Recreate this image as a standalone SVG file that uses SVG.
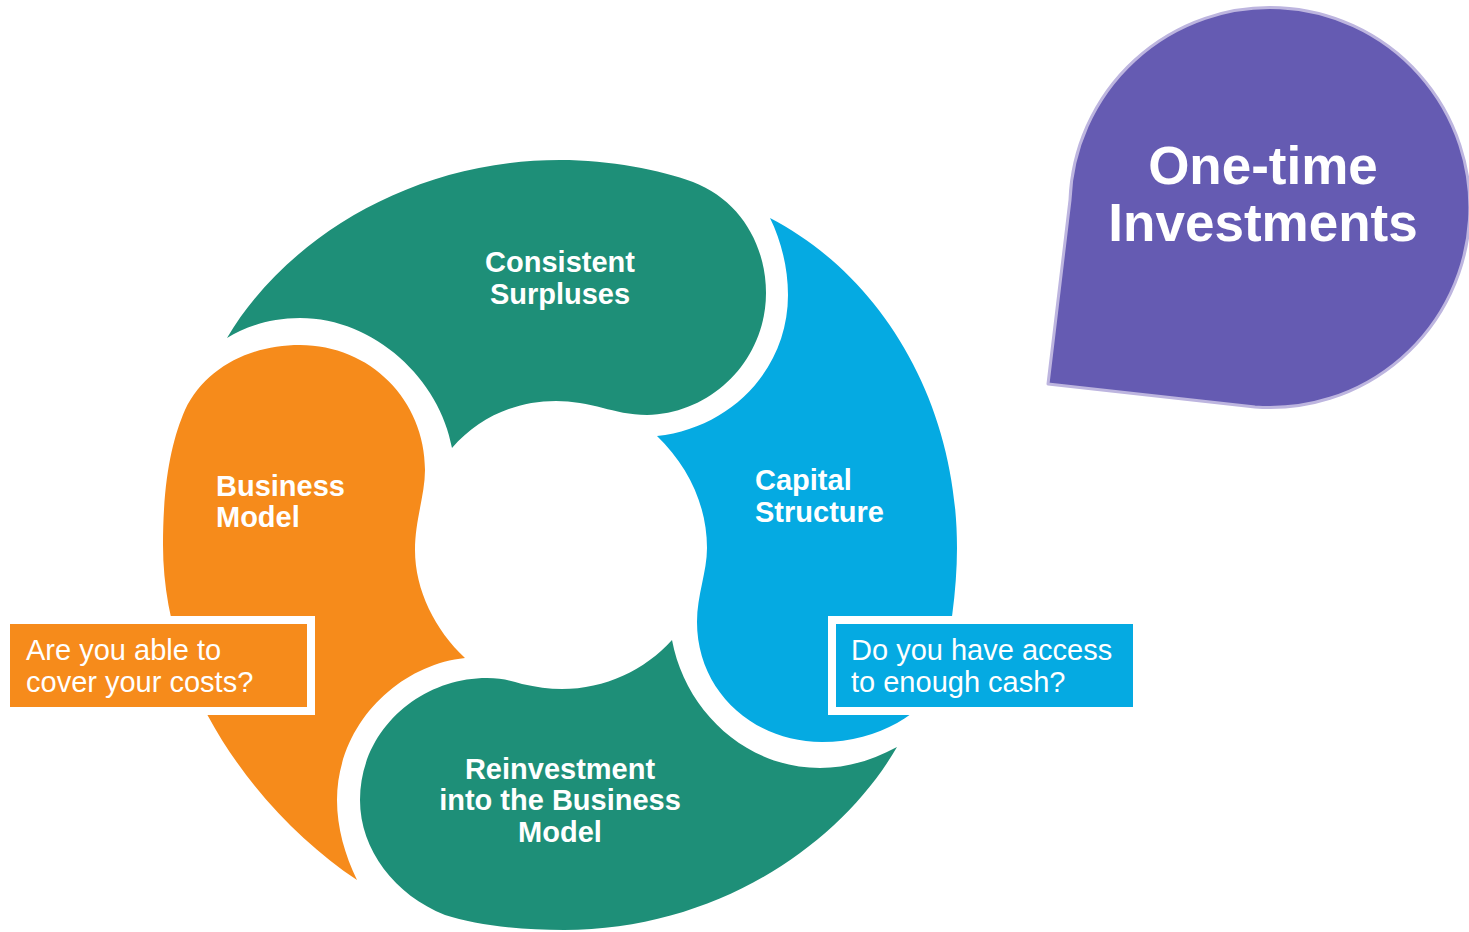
<svg xmlns="http://www.w3.org/2000/svg" width="1469" height="932" viewBox="0 0 1469 932">
  <style>
    .green { fill: #1E8F78; }
    .blue { fill: #05AAE2; }
    .orange { fill: #F68B1B; }
    .label { font-family: "Liberation Sans", Arial, sans-serif; font-weight: bold; font-size: 29px; fill: #FFFFFF; }
    .note { font-family: "Liberation Sans", Arial, sans-serif; font-size: 29px; fill: #FFFFFF; }
    .title { font-family: "Liberation Sans", Arial, sans-serif; font-weight: bold; font-size: 53px; fill: #FFFFFF; }
  </style>
  <rect width="1469" height="932" fill="#FFFFFF"/>

  <!-- Cycle segments, each a comma-shaped swirl flowing clockwise -->
  <g id="consistent-surpluses">
    <path class="green" d="M 227,338 C 285,240 410,160 560,160 C 610,160 660,170 693,182 C 740,200 766,245 766,293 C 766,360 712,414 647,415 C 630,415 615,411 603,408 C 588,404 572,401 556,401 C 515,401 478,418 452,448 C 440,380 375,318 300,318 C 270,318 245,327 227,338 Z"/>
    <text class="label" x="560" y="272" text-anchor="middle">Consistent</text>
    <text class="label" x="560" y="304" text-anchor="middle">Surpluses</text>
  </g>

  <g id="capital-structure">
    <path class="blue" d="M 770,218 C 880,275 957,400 957,548 C 957,590 950,640 940,680 C 925,712 880,742 822,742 C 752,742 697,690 697,622 C 697,595 707,572 707,548 C 707,505 688,466 657,436 C 730,428 788,370 788,295 C 788,268 781,240 770,218 Z"/>
    <text class="label" x="755" y="490">Capital</text>
    <text class="label" x="755" y="522">Structure</text>
  </g>

  <g id="reinvestment">
    <path class="green" d="M 897,747 C 839,847 714,930 564,930 C 520,930 475,925 445,915 C 395,895 360,850 360,800 C 360,730 420,678 487,678 C 502,678 512,681 522,684 C 536,687 549,689 562,689 C 605,689 645,670 672,640 C 685,710 745,768 820,768 C 847,768 873,760 897,747 Z"/>
    <text class="label" x="560" y="779" text-anchor="middle">Reinvestment</text>
    <text class="label" x="560" y="810" text-anchor="middle">into the Business</text>
    <text class="label" x="560" y="842" text-anchor="middle">Model</text>
  </g>

  <g id="business-model">
    <path class="orange" d="M 357,880 C 260,815 163,690 163,545 C 163,480 172,440 185,410 C 205,368 250,345 300,345 C 370,345 425,400 425,470 C 425,495 415,520 415,550 C 415,590 435,630 465,658 C 398,665 337,725 337,800 C 337,828 345,855 357,880 Z"/>
    <text class="label" x="216" y="496">Business</text>
    <text class="label" x="216" y="527">Model</text>
  </g>

  <!-- Question callouts with white frames -->
  <g id="costs-question">
    <rect x="2" y="616" width="313" height="99" fill="#FFFFFF"/>
    <rect class="orange" x="10" y="624" width="297" height="83"/>
    <text class="note" x="26" y="660">Are you able to</text>
    <text class="note" x="26" y="692">cover your costs?</text>
  </g>

  <g id="cash-question">
    <rect x="828" y="616" width="313" height="99" fill="#FFFFFF"/>
    <rect class="blue" x="836" y="624" width="297" height="83"/>
    <text class="note" x="851" y="660">Do you have access</text>
    <text class="note" x="851" y="692">to enough cash?</text>
  </g>

  <!-- Drop-shaped badge -->
  <g id="one-time-investments">
    <path d="M 1048,384 L 1070,200 A 200 200 0 1 1 1255,407 L 1048,384 Z" fill="#655BB2" stroke="#BDB5DF" stroke-width="3" stroke-linejoin="round"/>
    <text class="title" x="1263" y="184" text-anchor="middle">One-time</text>
    <text class="title" x="1263" y="241" text-anchor="middle">Investments</text>
  </g>
</svg>
